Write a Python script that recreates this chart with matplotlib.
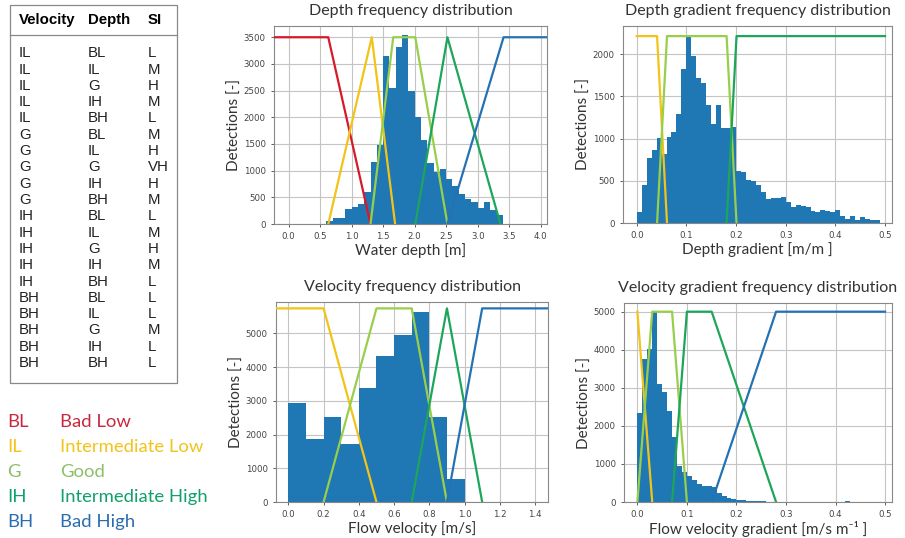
import numpy as np
import matplotlib
matplotlib.use('Agg')
import matplotlib.pyplot as plt
from matplotlib.patches import Rectangle
from matplotlib.lines import Line2D


# Class colours (BL, IL, G, IH, BH)
class_names = ['BL', 'IL', 'G', 'IH', 'BH']
class_labels = ['Bad Low', 'Intermediate Low', 'Good',
                'Intermediate High', 'Bad High']
line_colors = {'BL': '#d7192b', 'IL': '#f2c318', 'G': '#98cf4a',
               'IH': '#1da65a', 'BH': '#2472b4'}
text_colors = ['#c8283e', '#f2c318', '#8cbf6a', '#10a06a', '#2a6cb0']

# Rule table
table_velocity = ['IL', 'IL', 'IL', 'IL', 'IL', 'G', 'G', 'G', 'G', 'G',
                  'IH', 'IH', 'IH', 'IH', 'IH', 'BH', 'BH', 'BH', 'BH', 'BH']
table_depth = ['BL', 'IL', 'G', 'IH', 'BH', 'BL', 'IL', 'G', 'IH', 'BH',
               'BL', 'IL', 'G', 'IH', 'BH', 'BL', 'IL', 'G', 'IH', 'BH']
table_si = ['L', 'M', 'H', 'M', 'L', 'M', 'H', 'VH', 'H', 'M',
            'L', 'M', 'H', 'M', 'L', 'L', 'L', 'M', 'L', 'L']

# Water depth histogram (bins of 0.1 m from 0.6 m)
depth_edges = np.round(np.arange(0.6, 3.45, 0.1), 2)
depth_counts = [60, 105, 105, 275, 320, 380, 600, 1160, 1475, 3155,
                2545, 3325, 3545, 2490, 2005, 1580, 1150, 975, 1035, 845,
                705, 565, 460, 420, 300, 405, 255, 170]
depth_top = 3500
depth_lines = {
    'BL': ([-0.3, 0.63, 1.30], [1, 1, 0]),
    'IL': ([0.63, 1.32, 1.69], [0, 1, 0]),
    'G': ([1.30, 1.66, 2.01, 2.52], [0, 1, 1, 0]),
    'IH': ([2.01, 2.52, 3.36], [0, 1, 0]),
    'BH': ([2.52, 3.41, 4.3], [0, 1, 1]),
}

# Depth gradient histogram (bins of 0.01 m/m from 0)
grad_edges = np.round(np.arange(0.0, 0.495, 0.01), 2)
grad_counts = [135, 448, 774, 865, 1004, 813, 1016, 1075, 1290, 1825,
               2222, 1976, 1718, 1660, 1400, 1175, 1400, 1130, 1130, 1135,
               615, 600, 513, 500, 454, 363, 284, 292, 300, 304,
               245, 190, 209, 201, 190, 138, 130, 150, 142, 126,
               154, 79, 51, 79, 32, 67, 51, 40, 32]
grad_top = 2215
grad_lines = {
    'IL': ([0.0, 0.041, 0.061], [1, 1, 0]),
    'G': ([0.041, 0.061, 0.181, 0.201], [0, 1, 1, 0]),
    'IH': ([0.181, 0.201, 0.5], [0, 1, 1]),
}

# Flow velocity histogram (bins of 0.1 m/s from 0)
vel_edges = np.round(np.arange(0.0, 1.05, 0.1), 2)
vel_counts = [2930, 1870, 2520, 1730, 3370, 4330, 4960, 5640, 2520, 680]
vel_top = 5740
vel_lines = {
    'IL': ([-0.1, 0.2, 0.5], [1, 1, 0]),
    'G': ([0.2, 0.5, 0.7, 0.9], [0, 1, 1, 0]),
    'IH': ([0.7, 0.9, 1.1], [0, 1, 0]),
    'BH': ([0.9, 1.1, 1.6], [0, 1, 1]),
}

# Flow velocity gradient histogram (bins of 0.01 from 0)
vgrad_edges = np.round(np.arange(0.0, 0.435, 0.01), 2)
vgrad_counts = [2330, 3750, 4020, 5000, 3090, 2900, 2380, 1720, 940, 780,
                690, 570, 470, 410, 410, 395, 240, 150, 105, 75,
                55, 40, 30, 22, 28, 15, 10, 12, 8, 0,
                0, 0, 0, 0, 0, 0, 0, 0, 0, 0,
                0, 0, 18]
vgrad_top = 5000
vgrad_lines = {
    'IL': ([0.0, 0.03], [1, 0]),
    'G': ([0.0, 0.03, 0.07, 0.10], [0, 1, 1, 0]),
    'IH': ([0.07, 0.10, 0.15, 0.28], [0, 1, 1, 0]),
    'BH': ([0.15, 0.28, 0.5], [0, 1, 1]),
}

label_font = ['Lato', 'DejaVu Sans']
table_font = 'Liberation Sans'


def plot_panel(ax, edges, counts, lines, top, title, xlabel,
               xlim, ylim, xticks, yticks, xfmt):
    '''Histogram of detections with the membership functions on top.'''

    widths = np.diff(edges)
    ax.bar(edges[:-1], counts, width=widths, align='edge',
           color='#1f77b4', linewidth=0, zorder=2)
    for name in class_names:
        if name not in lines:
            continue
        x, m = lines[name]
        y = [top * v for v in m]
        ax.plot(x, y, '-', color=line_colors[name], linewidth=1.6,
                zorder=3)

    ax.set_xlim(*xlim)
    ax.set_ylim(*ylim)
    ax.set_xticks(xticks)
    ax.set_xticklabels([xfmt.format(t) for t in xticks])
    ax.set_yticks(yticks)
    ax.tick_params(labelsize=6.2, colors='#444444', length=2.5,
                   width=0.6)
    ax.grid(axis='both', color='#c4c4c4', linewidth=0.8, zorder=0)
    ax.set_axisbelow(True)
    for spine in ax.spines.values():
        spine.set_color('#888888')
        spine.set_linewidth(0.8)

    ax.set_title(title, family=label_font, fontsize=11.5, color='#333333',
                 pad=8)
    ax.set_xlabel(xlabel, family=label_font, fontsize=11,
                  color='#333333', labelpad=1)
    ax.set_ylabel('Detections [-]', family=label_font, fontsize=11,
                  color='#333333', labelpad=1)
    return None


fig = plt.figure(figsize=(9.05, 5.38), dpi=100)

ax_depth = fig.add_axes([0.3028, 0.5836, 0.3017, 0.3680])
ax_grad = fig.add_axes([0.6884, 0.5855, 0.2972, 0.3662])
ax_vel = fig.add_axes([0.3050, 0.0669, 0.3006, 0.3717])
ax_vgrad = fig.add_axes([0.6895, 0.0669, 0.2961, 0.3699])

plot_panel(ax_depth, depth_edges, depth_counts, depth_lines, depth_top,
           'Depth frequency distribution', 'Water depth [m]',
           (-0.23, 4.1), (0, 3710),
           [0.0, 0.5, 1.0, 1.5, 2.0, 2.5, 3.0, 3.5, 4.0],
           [0, 500, 1000, 1500, 2000, 2500, 3000, 3500], '{:.1f}')
plot_panel(ax_grad, grad_edges, grad_counts, grad_lines, grad_top,
           'Depth gradient frequency distribution', 'Depth gradient [m/m ]',
           (-0.0276, 0.514), (0, 2335),
           [0.0, 0.1, 0.2, 0.3, 0.4, 0.5],
           [0, 500, 1000, 1500, 2000], '{:.1f}')
plot_panel(ax_vel, vel_edges, vel_counts, vel_lines, vel_top,
           'Velocity frequency distribution', 'Flow velocity [m/s]',
           (-0.07, 1.474), (0, 5928),
           [0.0, 0.2, 0.4, 0.6, 0.8, 1.0, 1.2, 1.4],
           [0, 1000, 2000, 3000, 4000, 5000], '{:.1f}')
plot_panel(ax_vgrad, vgrad_edges, vgrad_counts, vgrad_lines, vgrad_top,
           'Velocity gradient frequency distribution',
           'Flow velocity gradient [m/s m\u207b\u00b9 ]',
           (-0.027, 0.514), (0, 5228),
           [0.0, 0.1, 0.2, 0.3, 0.4, 0.5],
           [0, 1000, 2000, 3000, 4000, 5000], '{:.1f}')

# Rule table on the left, drawn in figure pixels
W, H = 905.0, 538.0
box = Rectangle((10 / W, 1 - 383 / H), 167 / W, 378 / H,
                transform=fig.transFigure, fill=False,
                edgecolor='#888888', linewidth=0.9)
fig.patches.append(box)
fig.lines.append(Line2D([10 / W, 177 / W], [1 - 35 / H, 1 - 35 / H],
                        transform=fig.transFigure, color='#888888',
                        linewidth=0.9))

col_x = [19, 88, 148]
headers = ['Velocity', 'Depth', 'SI']
for cx, head in zip(col_x, headers):
    fig.text(cx / W, 1 - 20 / H, head, family=table_font,
             fontweight='bold', fontsize=10.8, va='center', ha='left')

row_y0 = 53.3
row_step = 16.3
for i in range(len(table_si)):
    y = 1 - (row_y0 + i * row_step) / H
    for cx, col in zip(col_x, [table_velocity, table_depth, table_si]):
        fig.text(cx / W, y, col[i], family=table_font, fontsize=10.8,
                 va='center', ha='left', color='#222222')

# Class legend below the table
for i, name in enumerate(class_names):
    y = 1 - (422 + i * 25) / H
    fig.text(7 / W, y, name, family=label_font, fontsize=13.3,
             color=text_colors[i], va='center', ha='left')
    fig.text(60 / W, y, class_labels[i], family=label_font, fontsize=13.3,
             color=text_colors[i], va='center', ha='left')

fig.savefig('out.png', dpi=100)
